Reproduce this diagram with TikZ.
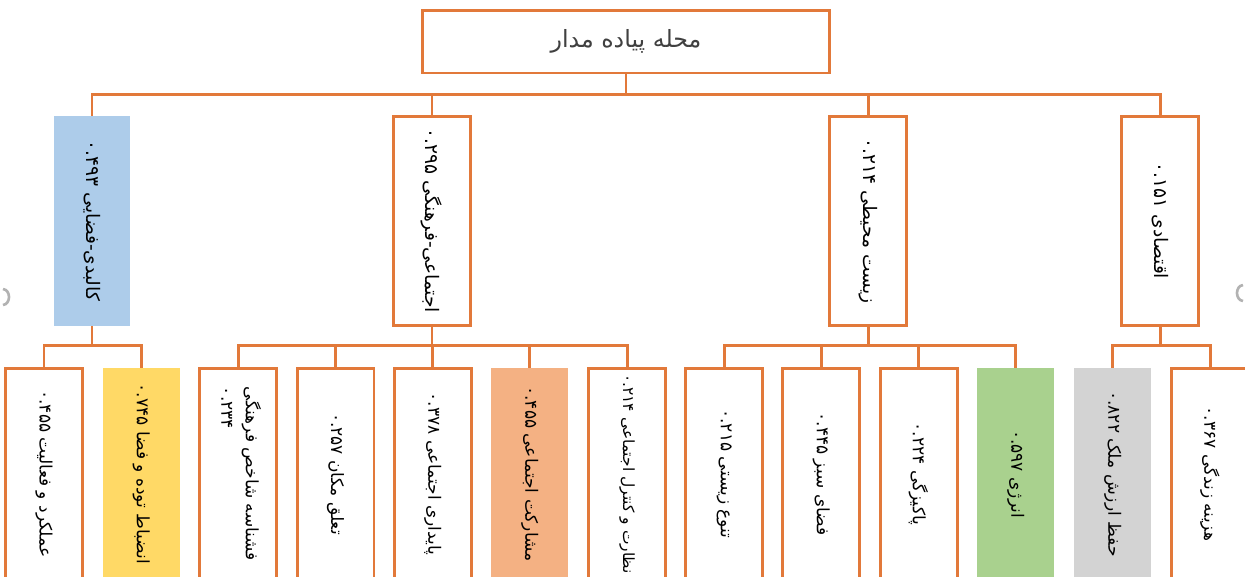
\documentclass[tikz,border=0pt]{standalone}
\usepackage{fontspec}
\usepackage{graphicx}
\newfontfamily\farsi[Script=Arabic]{DejaVu Sans}
\TeXXeTstate=1
\usetikzlibrary{positioning}

\definecolor{lineorange}{HTML}{E2793A}
\definecolor{fillblue}{HTML}{ADCCEA}
\definecolor{fillyellow}{HTML}{FFD966}
\definecolor{fillsalmon}{HTML}{F4B183}
\definecolor{fillgreen}{HTML}{A9D18E}
\definecolor{fillgray}{HTML}{D3D3D3}

\newcommand{\val}[1]{\beginL#1\endL}
\newcommand{\vtext}[1]{\rotatebox{-90}{\farsi\beginR #1\endR}}

\begin{document}
\begin{tikzpicture}[
        x=0.02cm, y=-0.02cm,
        node distance=3.44mm,
        topbox/.style={draw=lineorange, line width=1.7pt, fill=white,
                     minimum width=8.16cm, minimum height=1.26cm,
                     inner sep=0pt, font=\farsi\fontsize{13.5}{16}\selectfont,
                     text=black!75},
        catbox/.style={draw=lineorange, line width=1.7pt, fill=white,
                     minimum width=1.54cm, minimum height=4.2cm,
                     inner sep=0pt, font=\fontsize{10.6}{12}\selectfont},
        subbox/.style={catbox, minimum height=4.24cm, font=\fontsize{9.7}{11}\selectfont},
        conn/.style={draw=lineorange, line width=1.7pt, line cap=rect}
    ]
        \useasboundingbox (0,0) rectangle (1245,576);
        \clip (0,0) rectangle (1245,576);

        % top
        \node[topbox] (mahalle) at (626,41.5) {\beginR محله پیاده مدار\endR};

        % second level
        \node[catbox, draw=none, fill=fillblue] (kalbadi) at (92,221) {\vtext{کالبدی-فضایی \val{۰.۴۹۳}}};
        \node[catbox] (ejtemai) at (432,221) {\vtext{اجتماعی-فرهنگی \val{۰.۲۹۵}}};
        \node[catbox] (zist) at (868,221) {\vtext{زیست محیطی \val{۰.۲۱۴}}};
        \node[catbox] (eqtesadi) at (1160,221) {\vtext{اقتصادی \val{۰.۱۵۱}}};

        % third level
        \node[subbox] (amalkard) at (44,474) {\vtext{عملکرد و فعالیت \val{۰.۴۵۵}}};
        \node[subbox, draw=none, fill=fillyellow, right=of amalkard] (enzebat) {\vtext{انضباط توده و فضا \val{۰.۷۴۵}}};
        \node[subbox, right=of enzebat] (shenase) {\rotatebox{-90}{\farsi
            \begin{tabular}{@{}l@{}}\beginR فشناسه شاخص فرهنگی\endR\\[3pt] \val{۰.۲۳۴}\end{tabular}}};
        \node[subbox, right=of shenase] (taalogh) {\vtext{تعلق مکان \val{۰.۲۵۷}}};
        \node[subbox, right=of taalogh] (paydari) {\vtext{پایداری اجتماعی \val{۰.۳۷۸}}};
        \node[subbox, draw=none, fill=fillsalmon, right=of paydari] (mosharekat) {\vtext{مشارکت اجتماعی \val{۰.۴۵۵}}};
        \node[subbox, right=of mosharekat, font=\fontsize{8.8}{10}\selectfont] (nezarat) {\vtext{نظارت و کنترل اجتماعی \val{۰.۲۱۴}}};
        \node[subbox, right=of nezarat] (tanavo) {\vtext{تنوع زیستی \val{۰.۲۱۵}}};
        \node[subbox, right=of tanavo] (fazasabz) {\vtext{فضای سبز \val{۰.۴۴۵}}};
        \node[subbox, right=of fazasabz] (pakizegi) {\vtext{پاکیزگی \val{۰.۲۲۴}}};
        \node[subbox, draw=none, fill=fillgreen, right=of pakizegi] (energy) {\vtext{انرژی \val{۰.۵۹۷}}};
        \node[subbox, draw=none, fill=fillgray, right=of energy] (hefz) {\vtext{حفظ ارزش ملک \val{۰.۸۲۲}}};
        \node[subbox, right=of hefz] (hazine) {\vtext{هزینه زندگی \val{۰.۳۶۷}}};

        % connectors
        \coordinate (bar) at (0,94);
        \coordinate (bus) at (0,345);
        \draw[conn] (mahalle.south) -- (mahalle.south |- bar);
        \draw[conn] (kalbadi.north |- bar) -- (eqtesadi.north |- bar);
        \foreach \n in {kalbadi,ejtemai,zist,eqtesadi}
            \draw[conn] (\n.north) -- (\n.north |- bar);

        \foreach \n in {kalbadi,ejtemai,zist,eqtesadi}
            \draw[conn] (\n.south) -- (\n.south |- bus);
        \draw[conn] (amalkard.north |- bus) -- (enzebat.north |- bus);
        \draw[conn] (shenase.north |- bus) -- (nezarat.north |- bus);
        \draw[conn] (tanavo.north |- bus) -- (energy.north |- bus);
        \draw[conn] (hefz.north |- bus) -- (hazine.north |- bus);
        \foreach \n in {amalkard,enzebat,shenase,taalogh,paydari,mosharekat,nezarat,
                        tanavo,fazasabz,pakizegi,energy,hefz,hazine}
            \draw[conn] (\n.north) -- (\n.north |- bus);

        % edge marks
        \draw[gray!60, line width=1.5pt] (3,289) .. controls (11,290) and (11,304) .. (3,305);
        \draw[gray!60, line width=1.5pt] (1243,285) .. controls (1235,286) and (1235,300) .. (1243,301);
    \end{tikzpicture}
\end{document}
